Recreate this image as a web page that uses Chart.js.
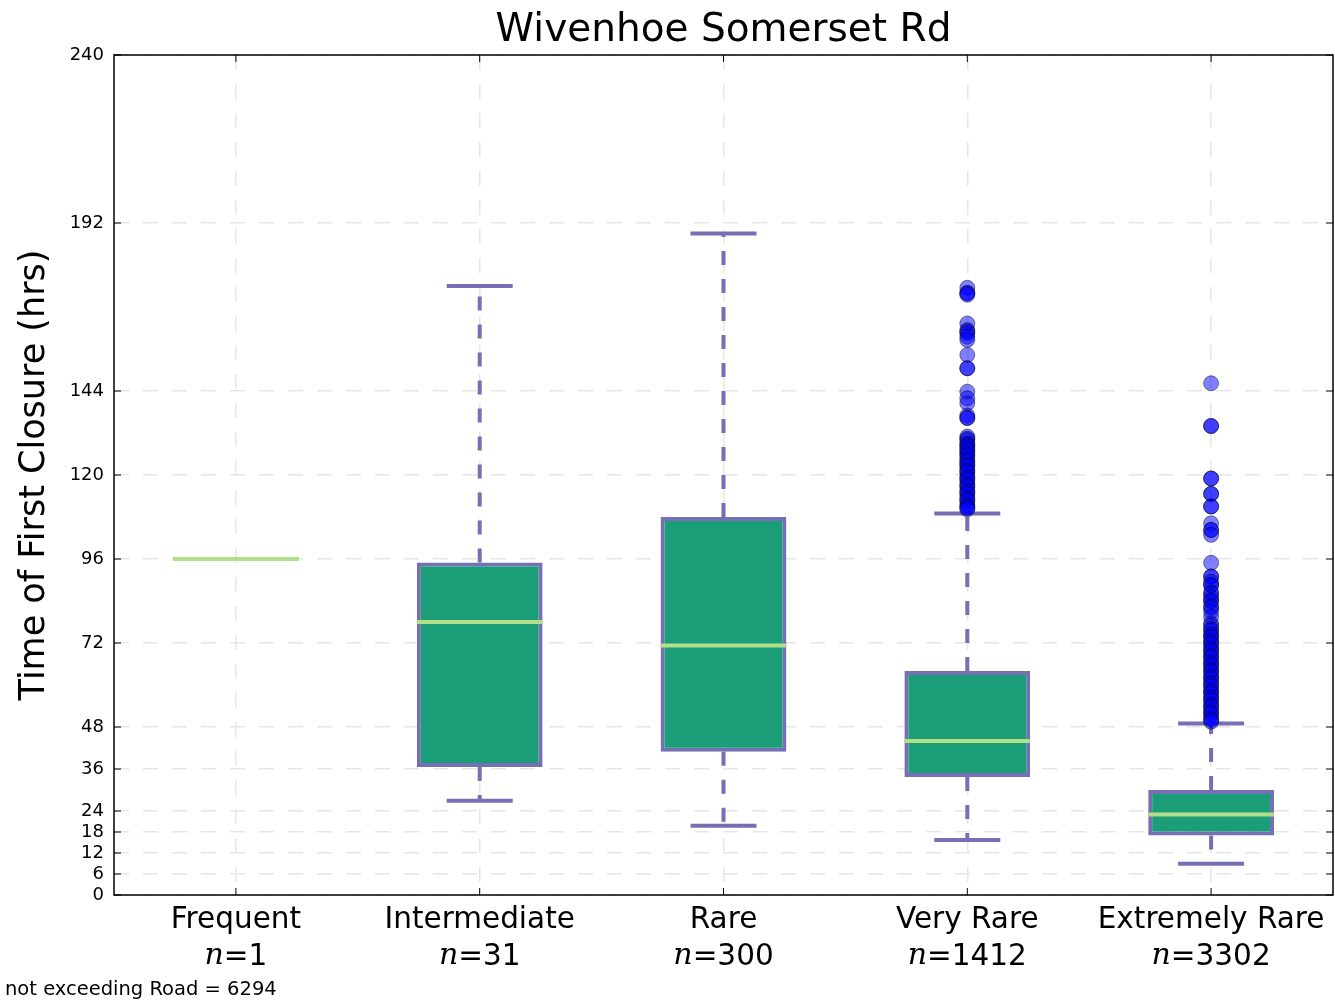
<!DOCTYPE html>
<html>
<head>
<meta charset="utf-8">
<title>Wivenhoe Somerset Rd</title>
<script src="https://cdn.jsdelivr.net/npm/chart.js@4"></script>
<style>
  html, body { margin: 0; padding: 0; background: #ffffff; }
  canvas { display: block; }
</style>
</head>
<body>
<canvas id="box-chart" width="1335" height="1003"></canvas>
<script>
// values
const CATEGORIES = ['Frequent', 'Intermediate', 'Rare', 'Very Rare', 'Extremely Rare'];
const COUNTS = [1, 31, 300, 1412, 3302];
const MEDIANS = [96, 78, 71.3, 44, 23];
const Q1 = [null, 36.6, 40.9, 33.7, 17];
const Q3 = [null, 95, 108, 64, 30];
const WHISKER_LOW = [null, 26.9, 19.8, 15.7, 8.9];
const WHISKER_HIGH = [null, 174, 189, 109, 49];
const OUTLIERS_VERY_RARE = [173.5, 172, 172, 171.5, 163.3, 161.4, 161, 160.5, 159.5, 158.6,
    154.3, 150.5, 150.5, 143.8, 141.9, 140.5, 137, 136.3, 136.3, 131, 130.4, 130, 129, 128.6,
    128.2, 127.5, 127, 126.5, 125.8, 125.5, 124.5, 124, 123.5, 122.8, 122.5, 121.5, 121, 120.5,
    119.5, 119, 118.5, 117.5, 117, 116.5, 115.5, 115, 114.5, 113.5, 113, 112.5, 111.5, 111,
    110.6, 110.2];
const OUTLIERS_EXTREMELY_RARE = [146.2, 134, 134, 119, 119, 114.6, 114.6, 111, 111, 106.2,
    104.3, 104.3, 102.9, 94.9, 91, 91, 89.5, 88.5, 88.5, 86.5, 86, 85, 84, 84, 82.5, 82, 81,
    79.5, 77.6, 77, 76, 75.5, 74.5, 74, 73.5, 72.5, 72, 71.5, 70.5, 70, 69.5, 68.5, 68, 67.5,
    66.5, 66, 65.5, 64.5, 64, 63.5, 62.5, 62, 61.5, 60.5, 60, 59.5, 58.5, 58, 57.5, 56.5, 56,
    55.5, 54.5, 54, 53.5, 52.5, 52, 51.5, 50.5, 50, 49.5];
const Y_TICKS = [0, 6, 12, 18, 24, 36, 48, 72, 96, 120, 144, 192, 240];

const TITLE = 'Wivenhoe Somerset Rd';
const Y_TITLE = 'Time of First Closure (hrs)';
const NOTE = 'not exceeding Road = 6294';

const BOX_FILL = '#1b9e77';
const BOX_EDGE = '#7570b3';
const MEDIAN_COLOR = '#b2df8a';

// build the whisker segments (q3 -> high, q1 -> low), null breaks the line
const whiskerPoints = [];
const capPoints = [];
CATEGORIES.forEach((cat, i) => {
    if (WHISKER_HIGH[i] == null) return;
    whiskerPoints.push({ x: cat, y: Q3[i] }, { x: cat, y: WHISKER_HIGH[i] }, { x: cat, y: null });
    whiskerPoints.push({ x: cat, y: Q1[i] }, { x: cat, y: WHISKER_LOW[i] }, { x: cat, y: null });
    capPoints.push({ x: cat, y: WHISKER_HIGH[i] }, { x: cat, y: WHISKER_LOW[i] });
});

const outlierPoints = [
    ...OUTLIERS_VERY_RARE.map(v => ({ x: 'Very Rare', y: v })),
    ...OUTLIERS_EXTREMELY_RARE.map(v => ({ x: 'Extremely Rare', y: v }))
];

const boxData = CATEGORIES.map((c, i) => (Q1[i] == null ? null : [Q1[i], Q3[i]]));
const medianData = CATEGORIES.map((c, i) => ({ x: c, y: MEDIANS[i] }));

// title, x labels, frame and inward ticks, matplotlib style
const decorations = {
    id: 'decorations',
    afterDraw(chart) {
        const { ctx, chartArea } = chart;
        const xScale = chart.scales.x;
        const yScale = chart.scales.y;
        ctx.save();

        // frame
        ctx.strokeStyle = '#000000';
        ctx.lineWidth = 1.5;
        ctx.strokeRect(chartArea.left, chartArea.top, chartArea.right - chartArea.left, chartArea.bottom - chartArea.top);

        // inward ticks
        ctx.lineWidth = 1;
        ctx.beginPath();
        Y_TICKS.forEach(v => {
            const y = yScale.getPixelForValue(v);
            ctx.moveTo(chartArea.left, y); ctx.lineTo(chartArea.left + 7, y);
            ctx.moveTo(chartArea.right, y); ctx.lineTo(chartArea.right - 7, y);
        });
        CATEGORIES.forEach((c, i) => {
            const x = xScale.getPixelForTick(i);
            ctx.moveTo(x, chartArea.bottom); ctx.lineTo(x, chartArea.bottom - 7);
            ctx.moveTo(x, chartArea.top); ctx.lineTo(x, chartArea.top + 7);
        });
        ctx.stroke();

        ctx.fillStyle = '#000000';
        ctx.textBaseline = 'middle';

        // title over the plot area
        ctx.font = '39px "DejaVu Sans"';
        ctx.textAlign = 'center';
        ctx.fillText(TITLE, (chartArea.left + chartArea.right) / 2, 31);

        // category labels, with italic n
        CATEGORIES.forEach((c, i) => {
            const x = xScale.getPixelForTick(i);
            ctx.font = '29.5px "DejaVu Sans"';
            ctx.textAlign = 'center';
            ctx.fillText(c, x, 920);

            const rest = '=' + COUNTS[i];
            ctx.font = 'italic 30px "DejaVu Serif"';
            const nW = ctx.measureText('n').width;
            ctx.font = '29.5px "DejaVu Sans"';
            const rW = ctx.measureText(rest).width;
            const start = x - (nW + rW) / 2;
            ctx.textAlign = 'left';
            ctx.font = 'italic 30px "DejaVu Serif"';
            ctx.fillText('n', start, 956);
            ctx.font = '29.5px "DejaVu Sans"';
            ctx.fillText(rest, start + nW, 957);
        });

        // note bottom left
        ctx.font = '19.5px "DejaVu Sans"';
        ctx.textAlign = 'left';
        ctx.fillText(NOTE, 5, 990);
        ctx.restore();
    }
};

Chart.defaults.font.family = '"DejaVu Sans", sans-serif';
Chart.defaults.color = '#000000';

const ctx = document.getElementById('box-chart').getContext('2d');
new Chart(ctx, {
    type: 'bar',
    data: {
        labels: CATEGORIES,
        datasets: [
            {
                type: 'line',
                label: 'outliers',
                data: outlierPoints,
                showLine: false,
                pointRadius: 7.5,
                pointBackgroundColor: 'rgba(0, 0, 255, 0.5)',
                pointBorderColor: 'rgba(0, 0, 0, 0.45)',
                pointBorderWidth: 1,
                order: 0
            },
            {
                type: 'line',
                label: 'medians',
                data: medianData,
                showLine: false,
                pointStyle: 'line',
                pointRadius: 63,
                pointBorderColor: MEDIAN_COLOR,
                pointBackgroundColor: MEDIAN_COLOR,
                pointBorderWidth: 4,
                clip: false,
                order: 1
            },
            {
                type: 'line',
                label: 'caps',
                data: capPoints,
                showLine: false,
                pointStyle: 'line',
                pointRadius: 33,
                pointBorderColor: BOX_EDGE,
                pointBackgroundColor: BOX_EDGE,
                pointBorderWidth: 4,
                order: 2
            },
            {
                type: 'bar',
                label: 'boxes',
                data: boxData,
                backgroundColor: BOX_FILL,
                borderColor: BOX_EDGE,
                borderWidth: 4,
                borderSkipped: false,
                barPercentage: 0.516,
                categoryPercentage: 1,
                order: 3
            },
            {
                type: 'line',
                label: 'whiskers',
                data: whiskerPoints,
                borderColor: BOX_EDGE,
                borderWidth: 4,
                borderDash: [14, 14],
                pointRadius: 0,
                spanGaps: false,
                fill: false,
                order: 4
            }
        ]
    },
    options: {
        responsive: false,
        animation: false,
        events: [],
        layout: { autoPadding: false, padding: { top: 55, right: 2, bottom: 0, left: 0 } },
        plugins: {
            legend: { display: false },
            tooltip: { enabled: false },
            title: { display: false }
        },
        scales: {
            x: {
                type: 'category',
                offset: true,
                grid: {
                    offset: false,
                    color: '#e6e6e6',
                    lineWidth: 1.5,
                    drawTicks: false,
                    borderDash: [15, 14]
                },
                border: { display: false, dash: [15, 14] },
                ticks: { display: false },
                afterFit: (scale) => { scale.height = 108; }
            },
            y: {
                min: 0,
                max: 240,
                afterBuildTicks: (scale) => {
                    scale.ticks = Y_TICKS.map(v => ({ value: v }));
                },
                grid: {
                    color: '#e6e6e6',
                    lineWidth: 1.5,
                    drawTicks: false,
                    borderDash: [15, 14]
                },
                border: { display: false, dash: [15, 14] },
                ticks: {
                    padding: 10,
                    color: '#000000',
                    font: { size: 18 },
                    autoSkip: false
                },
                title: {
                    display: true,
                    text: Y_TITLE,
                    color: '#000000',
                    font: { size: 35 },
                    padding: { top: 14, bottom: 0 }
                },
                afterFit: (scale) => { scale.width = 114; }
            }
        }
    },
    plugins: [decorations]
});
</script>
</body>
</html>
